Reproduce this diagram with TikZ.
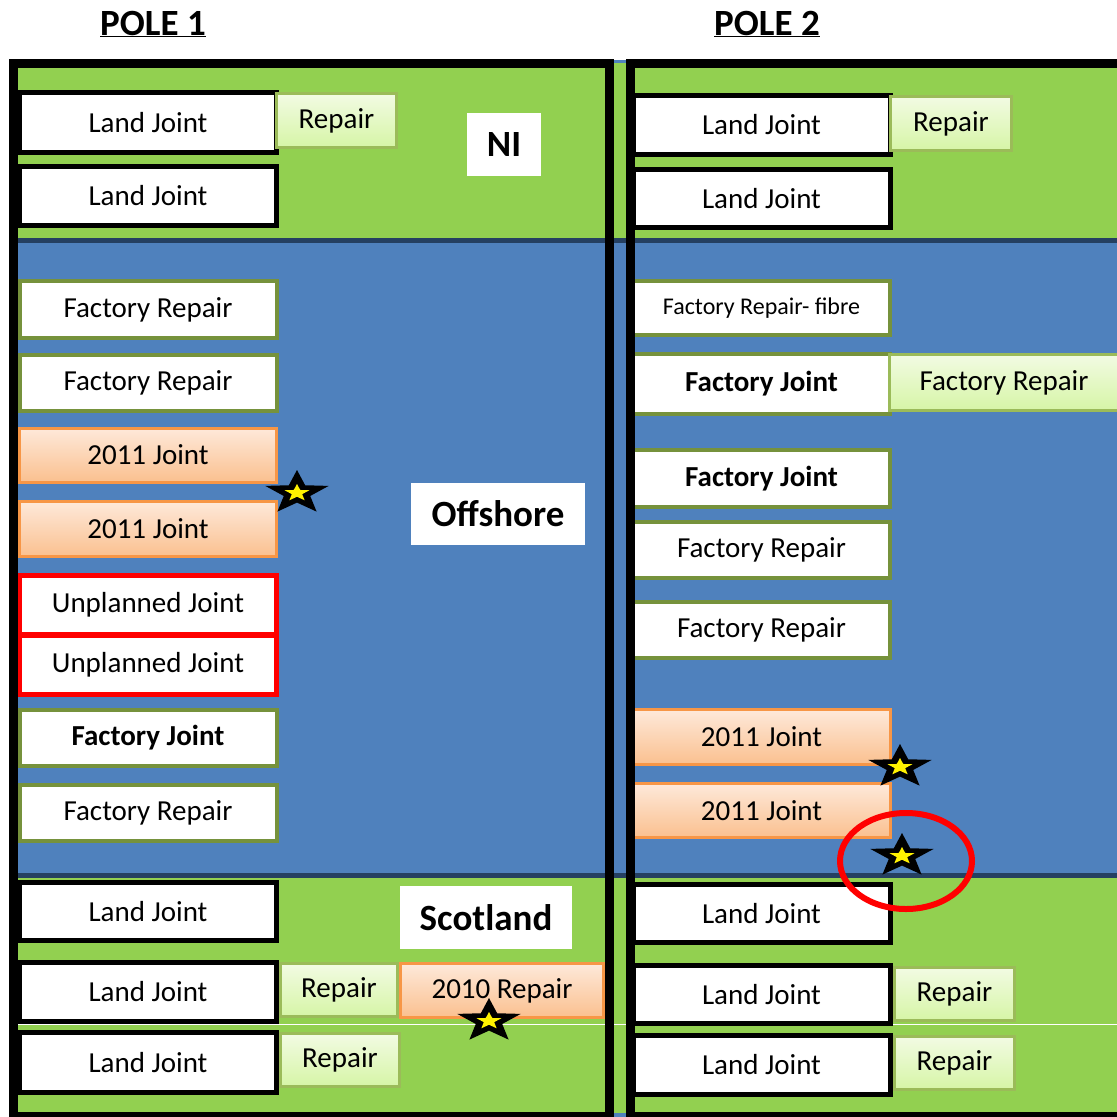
\documentclass[tikz,border=0pt]{standalone}
\usepackage{fontspec}
\setmainfont{Carlito}
\usetikzlibrary{shapes.geometric}
\usetikzlibrary{positioning}
\usepackage{xcolor}

\definecolor{bandgreen}{HTML}{92D050}
\definecolor{bandblue}{HTML}{4F81BD}
\definecolor{bandline}{HTML}{254061}
\definecolor{olive}{HTML}{76923C}
\definecolor{repline}{HTML}{9BBB59}
\definecolor{reptop}{HTML}{F2FBE3}
\definecolor{repbot}{HTML}{D6F5A6}
\definecolor{orgline}{HTML}{F79646}
\definecolor{orgtop}{HTML}{FEE9DA}
\definecolor{orgbot}{HTML}{FAC08F}

\newcommand{\jointfont}{\fontsize{29}{35}\selectfont}
\newcommand{\regionfont}{\fontsize{37}{44}\selectfont\bfseries}

\tikzset{
	jointbox/.style={rectangle, inner sep=0pt, minimum width=257, font=\jointfont},
	landbox/.style={jointbox, draw=black, line width=5pt, fill=white},
	factbox/.style={jointbox, draw=olive, line width=4pt, fill=white},
	oldbox/.style={jointbox, draw=orgline, line width=3pt, top color=orgtop, bottom color=orgbot},
	redbox/.style={jointbox, draw=red, line width=5pt, fill=white},
	repbox/.style={rectangle, inner sep=0pt, draw=repline, line width=3pt, top color=reptop, bottom color=repbot, font=\jointfont},
	regionbox/.style={rectangle, fill=white, inner sep=0pt, font=\regionfont},
	poletitle/.style={font=\regionfont},
	outerstar/.style={star, star points=5, star point ratio=2.4, fill=black, inner sep=0pt, minimum size=46pt, transform shape},
	innerstar/.style={star, star points=5, star point ratio=2.4, fill=yellow, inner sep=0pt, minimum size=18pt, transform shape}
}

% star mark: name, x, y
\newcommand{\failstar}[3]{%
	\begin{scope}[shift={(#2,#3)}, xscale=1.45]
		\node[outerstar] (#1) at (0,0) {};
		\node[innerstar] (#1in) at (0,0) {};
	\end{scope}}

\begin{document}
\begin{tikzpicture}[x=1pt, y=-1pt] % cable joint map
	\useasboundingbox (0,0) rectangle (1117,1117);
	
	%bands
	\fill[bandblue] (13,60) rectangle (1117,1117);
	\fill[bandgreen] (13,63) rectangle (1117,238);
	\fill[bandline] (13,238) rectangle (1117,243);
	\fill[bandline] (13,873) rectangle (1117,878);
	\fill[bandgreen] (13,878) rectangle (1117,1113);
	\draw[white, line width=1pt] (18,1024) -- (1117,1024);
	
	%titles
	\node[poletitle] (pole1) at (153,24) {\underline{POLE 1}};
	\node[poletitle] (pole2) at (767,24) {\underline{POLE 2}};
	
	%regions
	\node[regionbox, minimum width=74, minimum height=63] (ni) at (504,144.5) {NI};
	\node[regionbox, minimum width=174, minimum height=62] (offshore) at (498,514) {Offshore};
	\node[regionbox, minimum width=172, minimum height=63] (scotland) at (486,917.5) {Scotland};
	
	%pole 1
	\node[landbox, minimum height=60] (lj1a) at (148,122.5) {Land Joint};
	\node[repbox, minimum width=120, minimum height=54] (rp1a) at (336.5,120.5) {Repair};
	\node[landbox, minimum height=59] (lj1b) at (148,196) {Land Joint};
	\node[factbox, minimum height=57] (fr1a) at (148,309.5) {Factory Repair};
	\node[factbox, minimum height=56] (fr1b) at (148,383) {Factory Repair};
	\node[oldbox, minimum height=54] (jt1a) at (148,455) {2011 Joint};
	\node[oldbox, minimum height=55] (jt1b) at (148,529) {2011 Joint};
	\node[redbox, minimum height=59.5] (up1a) at (148,605) {Unplanned Joint};
	\node[redbox, minimum height=59] (up1b) at (148,664.5) {Unplanned Joint};
	\node[factbox, minimum height=56, font=\jointfont\bfseries] (fj1a) at (148,738) {Factory Joint};
	\node[factbox, minimum height=56] (fr1c) at (148,813) {Factory Repair};
	\node[landbox, minimum height=58] (lj1c) at (148,911.5) {Land Joint};
	\node[landbox, minimum height=59] (lj1d) at (148,992) {Land Joint};
	\node[repbox, minimum width=117, minimum height=53] (rp1b) at (339,990) {Repair};
	\node[oldbox, minimum width=203, minimum height=54] (rp1old) at (502,990.5) {2010 Repair};
	\node[landbox, minimum height=60] (lj1e) at (148,1062.5) {Land Joint};
	\node[repbox, minimum width=119, minimum height=53] (rp1c) at (340,1060) {Repair};
	
	%pole 2
	\node[landbox, minimum height=59] (lj2a) at (761.5,125) {Land Joint};
	\node[repbox, minimum width=121, minimum height=54] (rp2a) at (951,123.5) {Repair};
	\node[landbox, minimum height=58] (lj2b) at (761.5,198.5) {Land Joint};
	\node[factbox, minimum height=54, font=\fontsize{24}{28}\selectfont] (fr2a) at (761.5,308) {Factory Repair- fibre};
	\node[factbox, minimum height=60, font=\jointfont\bfseries] (fj2a) at (761.5,384) {Factory Joint};
	\node[repbox, minimum width=229, minimum height=56] (fr2b) at (1004,382.5) {Factory Repair};
	\node[factbox, minimum height=57, font=\jointfont\bfseries] (fj2b) at (761.5,478.5) {Factory Joint};
	\node[factbox, minimum height=56] (fr2c) at (761.5,550) {Factory Repair};
	\node[factbox, minimum height=56] (fr2d) at (761.5,630) {Factory Repair};
	\node[oldbox, minimum height=55] (jt2a) at (761.5,737) {2011 Joint};
	\node[oldbox, minimum height=54] (jt2b) at (761.5,810.5) {2011 Joint};
	\node[landbox, minimum height=58] (lj2c) at (761.5,913.5) {Land Joint};
	\node[landbox, minimum height=58] (lj2d) at (761.5,994.5) {Land Joint};
	\node[repbox, minimum width=120, minimum height=53] (rp2b) at (954.5,994) {Repair};
	\node[landbox, minimum height=59] (lj2e) at (761.5,1065) {Land Joint};
	\node[repbox, minimum width=120, minimum height=53] (rp2c) at (954.5,1063) {Repair};
	
	%pole frames
	\draw[line width=9pt] (13,63) rectangle (609,1116);
	\draw[line width=9pt] (630.5,63) rectangle (1121,1116);
	
	%fault marks
	\failstar{st1}{297}{493}
	\failstar{st2}{900}{767}
	\failstar{st3}{902}{856}
	\failstar{st4}{489}{1021}
	\draw[red, line width=6pt] (906,861) ellipse [x radius=66pt, y radius=48pt];
	
\end{tikzpicture}
\end{document}
